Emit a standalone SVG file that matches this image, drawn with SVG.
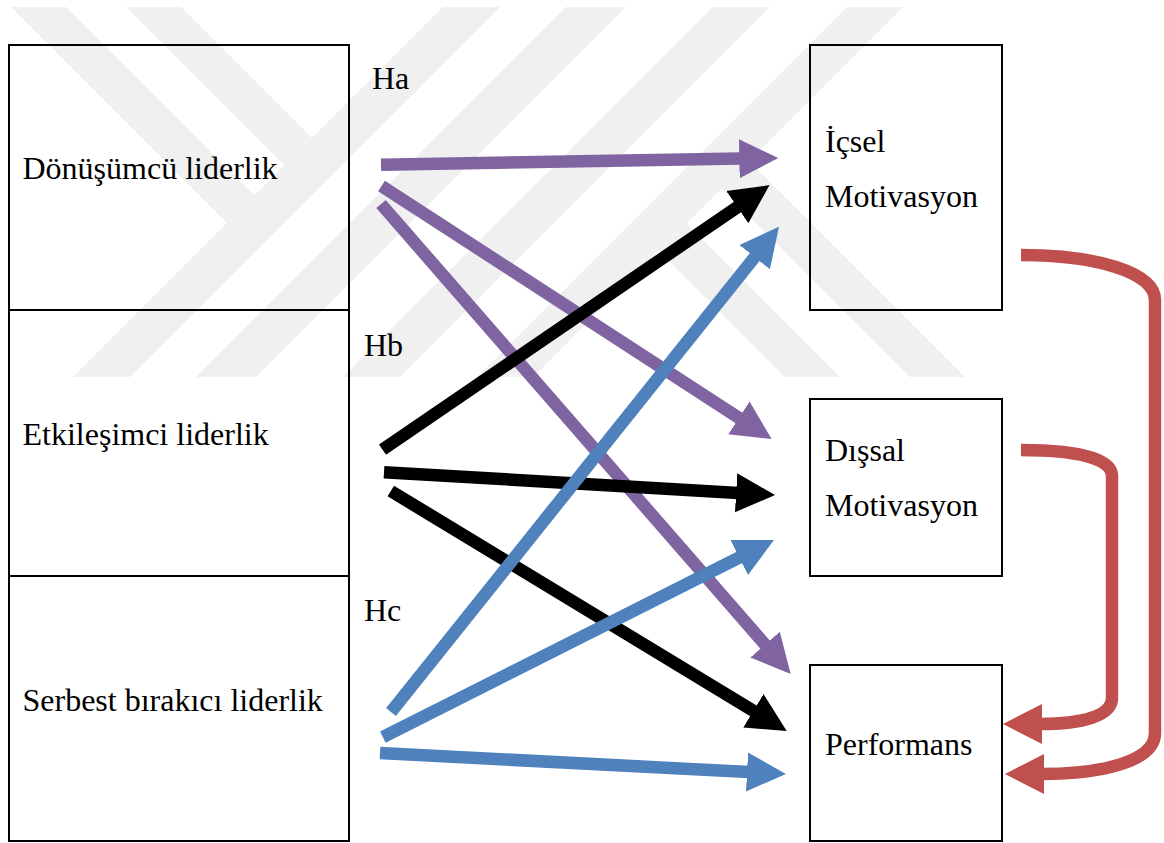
<svg xmlns="http://www.w3.org/2000/svg" width="1164" height="843" viewBox="0 0 1164 843">
<style>
.box{fill:none;stroke:#000;stroke-width:2}
.t{font-family:"Liberation Serif","Times New Roman",serif;font-size:32px;fill:#000}
.wm{fill:#f0f0f0}
.c{fill:none;stroke-width:12.5;stroke-linecap:butt}
.pu{stroke:#8064A2;marker-end:url(#ah-pu)}
.bk{stroke:#000;marker-end:url(#ah-bk)}
.bl{stroke:#4F81BD;marker-end:url(#ah-bl)}
.rd{stroke:#C0504D;marker-end:url(#ah-rd)}
</style>
<defs>
<marker id="ah-pu" markerUnits="userSpaceOnUse" markerWidth="40" markerHeight="40" viewBox="0 -20 40 40" refX="2" refY="0" orient="auto"><path d="M0,-19.5 L39,0 L0,19.5 z" fill="#8064A2"/></marker>
<marker id="ah-bk" markerUnits="userSpaceOnUse" markerWidth="40" markerHeight="40" viewBox="0 -20 40 40" refX="2" refY="0" orient="auto"><path d="M0,-19.5 L39,0 L0,19.5 z" fill="#000"/></marker>
<marker id="ah-bl" markerUnits="userSpaceOnUse" markerWidth="40" markerHeight="40" viewBox="0 -20 40 40" refX="2" refY="0" orient="auto"><path d="M0,-19.5 L39,0 L0,19.5 z" fill="#4F81BD"/></marker>
<marker id="ah-rd" markerUnits="userSpaceOnUse" markerWidth="40" markerHeight="40" viewBox="0 -20 40 40" refX="2" refY="0" orient="auto"><path d="M0,-20 L39,0 L0,20 z" fill="#C0504D"/></marker>
</defs>
<rect width="1164" height="843" fill="#fff"/>
<g id="watermark" class="wm">
<polygon points="443,7 500,7 130,377 73,377"/>
<polygon points="566,7 626,7 256,377 196,377"/>
<polygon points="713,7 770,7 400,377 343,377"/>
<polygon points="847,7 903,7 533,377 477,377"/>
<polygon points="11,7 66,7 254.5,195.5 227,223"/>
<polygon points="126,7 181,7 312,138 284.5,165.5"/>
<polygon points="659,251 686.5,223.5 840,377 785,377"/>
<polygon points="721.5,188.5 749,161 965,377 910,377"/>
</g>
<g id="connectors">
<line class="c pu" x1="381" y1="164.7" x2="741.3" y2="158.6"/>
<line class="c pu" x1="381.5" y1="186" x2="740.6" y2="418.9"/>
<line class="c pu" x1="381" y1="204" x2="766.4" y2="646.1"/>
<line class="c bk" x1="382.5" y1="449.7" x2="739" y2="206"/>
<line class="c bk" x1="384" y1="472.2" x2="738.1" y2="492.9"/>
<line class="c bk" x1="390.8" y1="491" x2="755.1" y2="711.8"/>
<line class="c bl" x1="391" y1="712" x2="755.9" y2="255.6"/>
<line class="c bl" x1="382.8" y1="737.2" x2="741" y2="556.6"/>
<line class="c bl" x1="380" y1="753" x2="749" y2="772.1"/>
<path class="c rd" d="M1021,255 C1095,255 1155,272 1155,300 L1155,733 C1155,762 1100,774 1042,774"/>
<path class="c rd" d="M1021,450 C1075,450 1112,458 1112,476 L1112,698 C1112,716 1082,724 1040,724"/>
</g>
<g id="labels">
<text class="t" x="372" y="89">Ha</text>
<text class="t" x="364" y="356">Hb</text>
<text class="t" x="364" y="621">Hc</text>
</g>
<g id="n-donusumcu">
<rect class="box" x="9" y="45" width="340" height="265"/>
<text class="t" x="22.5" y="179">Dönüşümcü liderlik</text>
</g>
<g id="n-etkilesimci">
<rect class="box" x="9" y="310" width="340" height="266"/>
<text class="t" x="22.5" y="445">Etkileşimci liderlik</text>
</g>
<g id="n-serbest">
<rect class="box" x="9" y="576" width="340" height="265"/>
<text class="t" x="22.5" y="711">Serbest bırakıcı liderlik</text>
</g>
<g id="n-icsel">
<rect class="box" x="810" y="45" width="192" height="265"/>
<text class="t" x="825" y="152">İçsel</text>
<text class="t" x="825" y="207">Motivasyon</text>
</g>
<g id="n-dissal">
<rect class="box" x="810" y="399" width="192" height="177"/>
<text class="t" x="825" y="461">Dışsal</text>
<text class="t" x="825" y="516">Motivasyon</text>
</g>
<g id="n-performans">
<rect class="box" x="810" y="665" width="192" height="176"/>
<text class="t" x="825" y="755">Performans</text>
</g>
</svg>
